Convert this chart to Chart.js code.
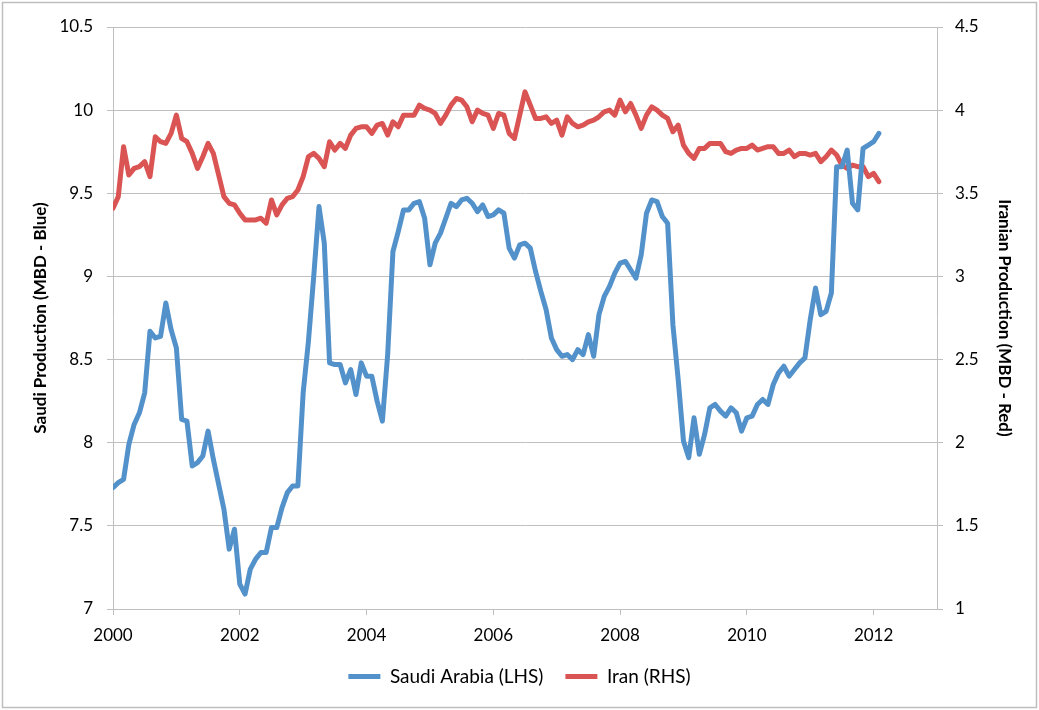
<!DOCTYPE html>
<html><head><meta charset="utf-8">
<script src="https://cdn.jsdelivr.net/npm/chart.js@4"></script>
<style>html,body{margin:0;padding:0;background:#fff;}#wrap{position:relative;width:1039px;height:710px;}</style>
</head><body><div id="wrap"><canvas id="c" width="1039" height="710"></canvas></div>
<script>
const startYear = 2000;
const saudi = [7.73,7.76,7.78,7.99,8.11,8.18,8.30,8.67,8.63,8.64,8.84,8.68,
8.57,8.14,8.13,7.86,7.88,7.92,8.07,7.90,7.75,7.60,7.36,7.48,
7.15,7.09,7.24,7.30,7.34,7.34,7.49,7.49,7.61,7.70,7.74,7.74,
8.30,8.61,9.00,9.42,9.20,8.48,8.47,8.47,8.36,8.44,8.29,8.48,
8.40,8.40,8.25,8.13,8.53,9.15,9.27,9.40,9.40,9.44,9.45,9.35,
9.07,9.20,9.26,9.35,9.44,9.42,9.46,9.47,9.44,9.39,9.43,9.36,
9.37,9.40,9.38,9.17,9.11,9.19,9.20,9.17,9.03,8.91,8.80,8.63,
8.56,8.52,8.53,8.50,8.56,8.53,8.65,8.52,8.77,8.88,8.94,9.02,
9.08,9.09,9.04,8.99,9.13,9.38,9.46,9.45,9.36,9.32,8.71,8.38,
8.01,7.91,8.15,7.93,8.05,8.21,8.23,8.19,8.16,8.21,8.18,8.07,
8.15,8.16,8.23,8.26,8.23,8.35,8.42,8.46,8.40,8.44,8.48,8.51,
8.74,8.93,8.77,8.79,8.90,9.66,9.66,9.76,9.44,9.40,9.77,9.79,
9.81,9.86];
const iran = [3.41,3.48,3.78,3.61,3.65,3.66,3.69,3.60,3.84,3.81,3.80,3.86,
3.97,3.83,3.81,3.74,3.65,3.72,3.80,3.74,3.61,3.48,3.44,3.43,
3.38,3.34,3.34,3.34,3.35,3.32,3.46,3.37,3.43,3.47,3.48,3.52,
3.60,3.72,3.74,3.71,3.66,3.81,3.76,3.80,3.77,3.85,3.89,3.90,
3.90,3.86,3.91,3.92,3.85,3.93,3.90,3.97,3.97,3.97,4.03,4.01,
4.00,3.98,3.92,3.97,4.03,4.07,4.06,4.02,3.93,4.00,3.98,3.97,
3.89,3.98,3.97,3.86,3.83,3.97,4.11,4.03,3.95,3.95,3.96,3.92,
3.94,3.85,3.96,3.92,3.90,3.91,3.93,3.94,3.96,3.99,4.00,3.97,
4.06,3.99,4.04,3.97,3.89,3.97,4.02,4.00,3.97,3.95,3.87,3.91,
3.79,3.74,3.71,3.77,3.77,3.80,3.80,3.80,3.75,3.74,3.76,3.77,
3.77,3.79,3.76,3.77,3.78,3.78,3.74,3.74,3.76,3.72,3.74,3.74,
3.73,3.74,3.69,3.72,3.76,3.73,3.67,3.65,3.67,3.66,3.66,3.60,
3.62,3.57];
const months = saudi.map((_, i) => startYear + i / 12);
const xTicks = [2000, 2002, 2004, 2006, 2008, 2010, 2012];
const leftTicks = [7, 7.5, 8, 8.5, 9, 9.5, 10, 10.5];
const rightTicks = [1, 1.5, 2, 2.5, 3, 3.5, 4, 4.5];

const BLUE = '#5391CB', RED = '#DA5454', GRID = '#BFBFBF';
const FONT = 'Lato, "Open Sans", sans-serif';

const borderPlugin = {
  id: 'outerBorder',
  afterDraw(chart) {
    const ctx = chart.ctx;
    ctx.save();
    ctx.strokeStyle = '#BEBEBE';
    ctx.lineWidth = 1.5;
    ctx.strokeRect(2.5, 2.5, 1034, 705);
    ctx.restore();
  }
};

new Chart(document.getElementById('c'), {
  type: 'line',
  data: {
    datasets: [
      { label: 'Saudi Arabia (LHS)', data: months.map((m, i) => ({x: m, y: saudi[i]})),
        borderColor: BLUE, backgroundColor: BLUE, borderWidth: 5, pointRadius: 0,
        tension: 0, borderCapStyle: 'round', borderJoinStyle: 'round', yAxisID: 'y' },
      { label: 'Iran (RHS)', data: months.map((m, i) => ({x: m, y: iran[i]})),
        borderColor: RED, backgroundColor: RED, borderWidth: 5, pointRadius: 0,
        tension: 0, borderCapStyle: 'round', borderJoinStyle: 'round', yAxisID: 'y2' }
    ]
  },
  options: {
    responsive: false,
    animation: false,
    layout: { padding: { top: 27, bottom: 14, left: 0, right: 0 } },
    plugins: {
      tooltip: { enabled: false },
      legend: {
        position: 'bottom',
        labels: {
          font: { family: FONT, size: 19 }, color: '#000',
          boxWidth: 32, boxHeight: 5, padding: 22,
          generateLabels: chart => chart.data.datasets.map((d, i) => ({
            text: d.label, fillStyle: d.borderColor, strokeStyle: d.borderColor,
            lineWidth: 0, hidden: false, datasetIndex: i, fontColor: '#000'
          }))
        }
      }
    },
    scales: {
      x: {
        type: 'linear', position: 'bottom', min: 2000, max: 2013,
        afterBuildTicks: s => { s.ticks = xTicks.map(v => ({value: v})); },
        ticks: { callback: v => String(v), font: { family: FONT, size: 17 }, color: '#000', padding: 10, maxRotation: 0 },
        grid: { drawOnChartArea: false, drawTicks: true, tickLength: 6, color: GRID },
        border: { color: GRID, width: 1 },
        afterFit: s => { s.height = 36; }
      },
      y: {
        type: 'linear', position: 'left', min: 7, max: 10.5,
        afterBuildTicks: s => { s.ticks = leftTicks.map(v => ({value: v})); },
        ticks: { callback: v => String(v), font: { family: FONT, size: 17 }, color: '#000', padding: 14 },
        grid: { color: GRID, tickLength: 6, lineWidth: 1 },
        border: { color: GRID, width: 1 },
        title: { display: true, text: 'Saudi Production (MBD - Blue)', font: { family: FONT, size: 17, weight: 'bold' }, color: '#000', padding: { top: 30, bottom: 0 } },
        afterFit: s => { s.width = 113; }
      },
      y2: {
        type: 'linear', position: 'right', min: 1, max: 4.5,
        afterBuildTicks: s => { s.ticks = rightTicks.map(v => ({value: v})); },
        ticks: { callback: v => String(v), font: { family: FONT, size: 17 }, color: '#000', padding: 12 },
        grid: { drawOnChartArea: false, color: GRID, tickLength: 6 },
        border: { color: GRID, width: 1 },
        title: { display: true, text: 'Iranian Production (MBD - Red)', font: { family: FONT, size: 17, weight: 'bold' }, color: '#000', padding: { top: 24, bottom: 0 } },
        afterFit: s => { s.width = 102; }
      }
    }
  },
  plugins: [borderPlugin]
});
</script>
</body></html>
